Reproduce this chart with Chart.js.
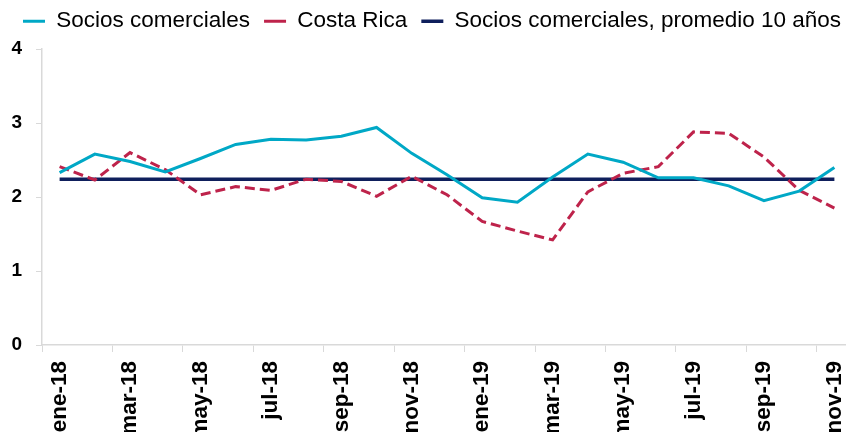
<!DOCTYPE html>
<html lang="es">
<head>
  <meta charset="UTF-8" />
  <title>Socios comerciales vs Costa Rica</title>
  <script src="https://cdn.jsdelivr.net/npm/chart.js@4.4.1/dist/chart.umd.min.js"></script>
  <style>
    html, body {
      margin: 0;
      padding: 0;
      background: #fff;
      overflow: hidden;
    }
    #wrap {
      width: 846px;
      height: 432px;
      overflow: hidden;
    }
  </style>
</head>
<body>
  <div id="wrap">
    <canvas id="chart" width="864" height="432"></canvas>
  </div>

  <script>
    const meses = ['ene-18', 'feb-18', 'mar-18', 'abr-18', 'may-18', 'jun-18', 'jul-18', 'ago-18',
      'sep-18', 'oct-18', 'nov-18', 'dic-18', 'ene-19', 'feb-19', 'mar-19', 'abr-19', 'may-19',
      'jun-19', 'jul-19', 'ago-19', 'sep-19', 'oct-19', 'nov-19'];

    const sociosComerciales = [2.33, 2.58, 2.48, 2.34, 2.52, 2.71, 2.78, 2.77, 2.82, 2.94, 2.59, 2.30,
      1.99, 1.93, 2.27, 2.58, 2.47, 2.26, 2.26, 2.15, 1.95, 2.08, 2.40];

    const costaRica = [2.41, 2.23, 2.60, 2.37, 2.03, 2.14, 2.09, 2.24, 2.21, 2.01, 2.28, 2.03,
      1.67, 1.54, 1.42, 2.07, 2.32, 2.41, 2.88, 2.86, 2.54, 2.09, 1.85];

    const promedio10 = [2.24, 2.24, 2.24, 2.24, 2.24, 2.24, 2.24, 2.24, 2.24, 2.24, 2.24, 2.24,
      2.24, 2.24, 2.24, 2.24, 2.24, 2.24, 2.24, 2.24, 2.24, 2.24, 2.24];

    const yTicks = [0, 1, 2, 3, 4];

    const fontFamily = "'Liberation Sans', Arial, sans-serif";
    const axisGray = '#d9d9d9';

    // legend box height is forced so the plot starts where the reference does
    const legendHeight = {
      id: 'legendHeight',
      beforeInit(chart) {
        const fit = chart.legend.fit;
        chart.legend.fit = function () {
          fit.bind(chart.legend)();
          this.height = 53;
        };
      }
    };

    new Chart(document.getElementById('chart'), {
      type: 'line',
      data: {
        labels: meses,
        datasets: [
          {
            label: 'Socios comerciales',
            data: sociosComerciales,
            borderColor: '#00A8C6',
            backgroundColor: '#00A8C6',
            borderWidth: 3,
            pointRadius: 0,
            tension: 0
          },
          {
            label: 'Costa Rica',
            data: costaRica,
            borderColor: '#BE234B',
            backgroundColor: '#BE234B',
            borderWidth: 3,
            borderDash: [10, 5],
            pointRadius: 0,
            tension: 0
          },
          {
            label: 'Socios comerciales, promedio 10 años',
            data: promedio10,
            borderColor: '#0F1F5C',
            backgroundColor: '#0F1F5C',
            borderWidth: 3.5,
            pointRadius: 0,
            tension: 0
          }
        ]
      },
      options: {
        responsive: false,
        animation: false,
        layout: { padding: { top: -4, left: 0, right: 0, bottom: 0 } },
        plugins: {
          tooltip: { enabled: false },
          legend: {
            position: 'top',
            align: 'center',
            labels: {
              usePointStyle: true,
              pointStyle: 'line',
              pointStyleWidth: 22,
              padding: 14,
              color: '#000',
              font: { family: fontFamily, size: 22.5 },
              generateLabels: chart => {
                const items = Chart.defaults.plugins.legend.labels.generateLabels(chart);
                // shorter dashes in the legend key, as in the reference
                items.forEach(it => { if (it.lineDash && it.lineDash.length) it.lineDash = [5, 3]; });
                return items;
              }
            }
          }
        },
        scales: {
          x: {
            offset: true,
            grid: {
              offset: true,
              drawOnChartArea: false,
              tickLength: 7,
              color: ctx => (ctx.index % 2 === 0 ? axisGray : 'rgba(0,0,0,0)')
            },
            border: { color: axisGray, width: 1.5 },
            ticks: {
              autoSkip: false,
              minRotation: 90,
              maxRotation: 90,
              padding: 9,
              color: '#000',
              font: { family: fontFamily, size: 22.5, weight: 'bold' },
              callback: (v, i) => (i % 2 === 0 ? meses[i] : '')
            },
            afterFit: scale => {
              scale.height = 87;
              scale.paddingLeft = 0;
              scale.paddingRight = 12; // plot runs past the visible edge, like the reference
            }
          },
          y: {
            min: 0,
            max: 4,
            afterBuildTicks: scale => { scale.ticks = yTicks.map(v => ({ value: v })); },
            grid: {
              drawOnChartArea: false,
              tickLength: 6,
              color: axisGray
            },
            border: { color: axisGray, width: 1.5 },
            ticks: {
              padding: 14,
              color: '#000',
              font: { family: fontFamily, size: 19, weight: 'bold' }
            },
            afterFit: scale => { scale.width = 42; }
          }
        }
      },
      plugins: [legendHeight]
    });
  </script>
</body>
</html>
